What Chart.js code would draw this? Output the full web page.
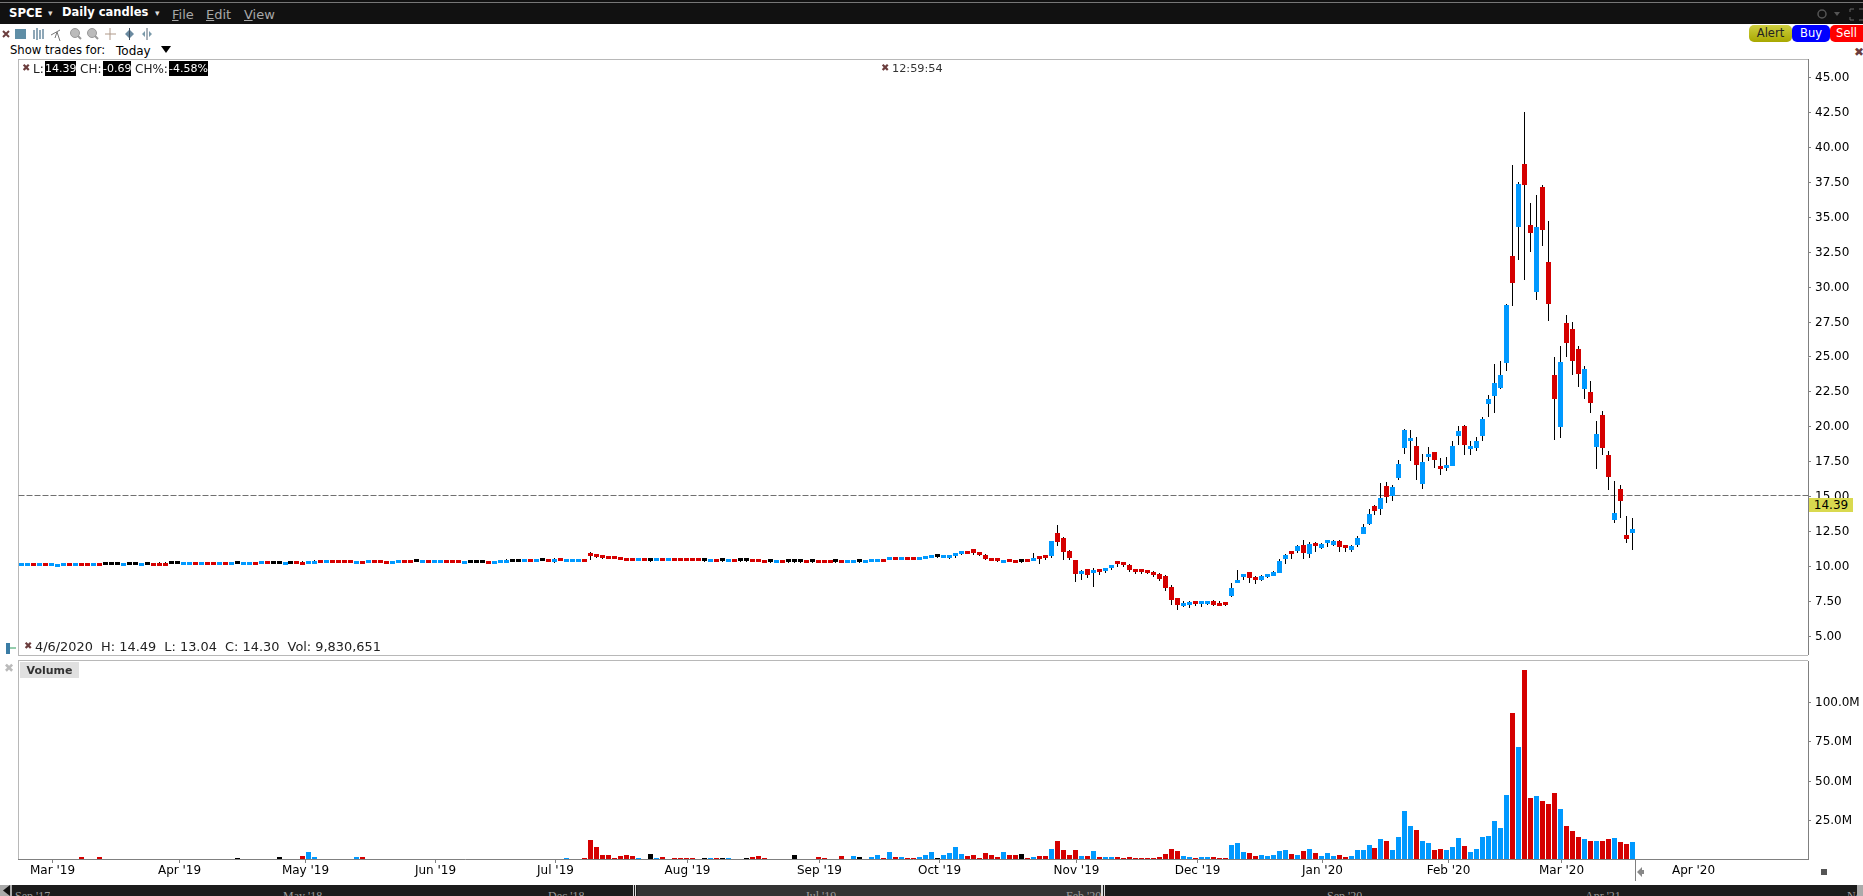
<!DOCTYPE html>
<html lang="en">
<head>
<meta charset="UTF-8">
<title>SPCE Daily candles</title>
<script src="https://cdn.jsdelivr.net/npm/chart.js@4/dist/chart.umd.min.js"></script>
<style>
    html, body { margin: 0; padding: 0; background: #fff; overflow: hidden; }
    body { width: 1863px; height: 896px; position: relative; font-family: 'DejaVu Sans', sans-serif; font-size: 12px; color: #000; }
    canvas { position: absolute; left: 0; }
    .abs { position: absolute; white-space: pre; line-height: 1; }
    .line { position: absolute; background: #b8b8b8; }
    .x { position: absolute; color: #6b3d3d; font-size: 10px; line-height: 1; font-weight: bold; }
    .menu { color: #a8a8a8; font-size: 13px; top: 8px; }
    .menu u { text-decoration: underline; }
    .inv { position: absolute; background: #000; color: #fff; height: 15px; line-height: 15px; text-align: center; top: 61px; font-size: 11px; }
    .btn { position: absolute; top: 25px; height: 17px; line-height: 17px; text-align: center; font-size: 11.5px; border-radius: 5px; }
    .nav { position: absolute; top: 885px; height: 11px; overflow: hidden; color: #9a9a9a; font-family: 'Liberation Serif', serif; font-size: 12px; line-height: 16px; padding-top: 3px; box-sizing: border-box; white-space: pre; }
</style>
</head>
<body>

<!-- title bar -->
<div style="position:absolute;left:0;top:0;width:1863px;height:2px;background:#111"></div>
<div style="position:absolute;left:0;top:2px;width:1863px;height:1px;background:#777"></div>
<div style="position:absolute;left:0;top:3px;width:1863px;height:21px;background:#111"></div>
<div class="abs" style="left:9px;top:8px;color:#fff;font-weight:bold;font-size:11.7px">SPCE</div>
<div class="abs" style="left:48px;top:9px;color:#ddd;font-size:9px">▾</div>
<div class="abs" style="left:62px;top:7px;color:#fff;font-weight:bold;font-size:11.5px">Daily candles</div>
<div class="abs" style="left:155px;top:9px;color:#ddd;font-size:9px">▾</div>
<div class="abs menu" style="left:172px"><u>F</u>ile</div>
<div class="abs menu" style="left:206px"><u>E</u>dit</div>
<div class="abs menu" style="left:244px"><u>V</u>iew</div>
<svg style="position:absolute;left:1815px;top:4px" width="48" height="20">
    <circle cx="7" cy="10" r="4" fill="none" stroke="#555" stroke-width="1.5"/>
    <path d="M19 8h6l-3 4z" fill="#555"/>
    <path d="M35 8V5h4M48 5h-4M35 13v3h4M48 16h-4" fill="none" stroke="#666"/>
</svg>

<!-- toolbar -->
<svg style="position:absolute;left:0;top:25px" width="160" height="18">
    <path d="M3 6l6 6M9 6l-6 6" stroke="#6b3d3d" stroke-width="2"/>
    <rect x="15" y="4" width="11" height="10" fill="#5f8ea6"/>
    <path d="M34 5v9M37 3v12M40 5v9M43 4v10" stroke="#6a8aa0" stroke-width="1.5"/>
    <path d="M51 10l9-5M57 7l3 9M57 7l-2 6" stroke="#777" fill="none"/>
    <circle cx="75" cy="8" r="4.5" fill="#bbb" stroke="#999"/><path d="M78 11l3 3" stroke="#999" stroke-width="2"/>
    <circle cx="92" cy="8" r="4.5" fill="#bbb" stroke="#999"/><path d="M95 11l3 3" stroke="#999" stroke-width="2"/>
    <path d="M110 3v12M105 9h11" stroke="#b09a8a"/>
    <path d="M125 9l4-4v8zM134 9l-4-4v8z" fill="#6a8aa0"/><path d="M129.500 3v12" stroke="#456"/>
    <path d="M142 9l3-3v6zM152 9l-3-3v6z" fill="#7a9aaa"/><path d="M147 3v12" stroke="#567"/>
</svg>
<div class="abs" style="left:10px;top:45px;font-size:11.6px">Show trades for:</div>
<div class="abs" style="left:116px;top:45px;font-size:12px">Today</div>
<svg style="position:absolute;left:161px;top:46px" width="12" height="8"><path d="M0 0h10l-5 7z" fill="#000"/></svg>
<div class="btn" style="left:1749px;width:43px;background:linear-gradient(#cfcf40,#a8a800);color:#222">Alert</div>
<div class="btn" style="left:1792px;width:38px;background:#0000ff;color:#fff">Buy</div>
<div class="btn" style="left:1830px;width:33px;background:#ff0000;color:#fff;border-radius:5px 0 0 5px">Sell</div>
<div class="x" style="left:1854px;top:46px;font-size:12px">✖</div>

<!-- chart panels -->
<div class="line" style="left:18px;top:59px;width:1790px;height:1px"></div>
<div class="line" style="left:18px;top:59px;width:1px;height:597px"></div>
<div class="line" style="left:18px;top:655px;width:1790px;height:1px"></div>
<div class="line" style="left:18px;top:660px;width:1790px;height:1px"></div>
<div class="line" style="left:18px;top:660px;width:1px;height:200px"></div>
<canvas id="priceChart" width="1863" height="596" style="top:59px;width:1863px;height:596px"></canvas>
<canvas id="volumeChart" width="1863" height="229" style="top:661px;width:1863px;height:229px"></canvas>

<div class="x" style="left:22px;top:63px">✖</div>
<div class="abs" style="left:33px;top:63px;color:#222">L:</div>
<div class="inv" style="left:45px;width:31px">14.39</div>
<div class="abs" style="left:80px;top:63px;color:#222">CH:</div>
<div class="inv" style="left:103px;width:28px">-0.69</div>
<div class="abs" style="left:135px;top:63px;color:#222">CH%:</div>
<div class="inv" style="left:169px;width:39px">-4.58%</div>
<div class="x" style="left:881px;top:63px">✖</div>
<div class="abs" style="left:892px;top:63px;color:#333;font-size:11.3px">12:59:54</div>

<div class="abs" style="left:1809px;top:498px;width:44px;height:14px;line-height:14px;text-align:center;background:#d9d94f">14.39</div>

<svg style="position:absolute;left:4px;top:642px" width="12" height="13"><path d="M2 1h4v11H2z" fill="#3a7ca5"/><path d="M6 6h6" stroke="#2a9a5a"/></svg>
<div class="x" style="left:24px;top:641px">✖</div>
<div class="abs" style="left:35px;top:641px;font-size:12.9px;color:#222">4/6/2020  H: 14.49  L: 13.04  C: 14.30  Vol: 9,830,651</div>

<div class="x" style="left:4px;top:662px;color:#bbb;font-size:12px">✖</div>
<div class="abs" style="left:20px;top:662px;width:59px;height:16px;line-height:17px;text-align:center;background:#e0e0e0;font-weight:bold;font-size:11px;color:#333">Volume</div>

<div style="position:absolute;left:1635px;top:859px;width:1px;height:22px;background:#808080"></div>
<svg style="position:absolute;left:1637px;top:867px" width="10" height="10"><path d="M0 5l5-5v3h2v4H5v3z" fill="#888"/></svg>
<div style="position:absolute;left:1821px;top:869px;width:6px;height:6px;background:#555"></div>

<!-- range navigator -->
<div style="position:absolute;left:0;top:885px;width:1863px;height:11px;background:#1c1c1c"></div>
<div style="position:absolute;left:0;top:885px;width:12px;height:11px;background:#aaa"></div>
<svg style="position:absolute;left:1px;top:885px" width="10" height="11"><path d="M9 0v11L2 5.500z" fill="#111"/></svg>
<div style="position:absolute;left:637px;top:885px;width:465px;height:11px;background:#333"></div>
<div style="position:absolute;left:633px;top:885px;width:1px;height:11px;background:#ddd"></div>
<div style="position:absolute;left:635px;top:885px;width:1px;height:11px;background:#ddd"></div>
<div style="position:absolute;left:1101px;top:885px;width:2px;height:11px;background:#ddd"></div>
<div style="position:absolute;left:1104px;top:885px;width:1px;height:11px;background:#ddd"></div>
<div class="nav" style="left:15px">Sep '17</div>
<div class="nav" style="left:283px">May '18</div>
<div class="nav" style="left:548px">Dec '18</div>
<div class="nav" style="left:805px">Jul '19</div>
<div class="nav" style="left:1066px">Feb '20</div>
<div class="nav" style="left:1327px">Sep '20</div>
<div class="nav" style="left:1585px">Apr '21</div>
<div class="nav" style="left:1847px">No</div>
<div style="position:absolute;left:1857px;top:885px;width:6px;height:11px;background:#aaa"></div>

<script>
// candles, one per trading day
const opens = [
    9.99,9.99,10.19,9.99,10.19,9.99,9.92,9.99,10.19,9.99,
    10.19,10.19,9.99,10.19,10.09,10.09,10.09,9.99,10.09,10.09,
    9.99,10.09,10.19,10.19,10.19,10.16,10.16,10.06,10.06,10.26,
    10.06,10.26,10.26,10.06,10.26,10.06,10.16,10.06,10.06,10.26,
    10.13,10.33,10.16,10.16,10.06,10.16,10.33,10.26,10.13,10.13,
    10.41,10.21,10.41,10.41,10.41,10.41,10.13,10.33,10.21,10.41,
    10.41,10.33,10.13,10.21,10.41,10.41,10.31,10.21,10.41,10.21,
    10.21,10.41,10.41,10.41,10.13,10.23,10.23,10.23,10.33,10.13,
    10.21,10.21,10.31,10.31,10.28,10.48,10.28,10.38,10.48,10.28,
    10.55,10.28,10.28,10.28,10.48,10.95,10.79,10.71,10.64,10.64,
    10.57,10.50,10.50,10.36,10.50,10.36,10.36,10.50,10.36,10.50,
    10.50,10.50,10.50,10.50,10.36,10.29,10.43,10.36,10.29,10.43,
    10.36,10.36,10.43,10.43,10.35,10.28,10.21,10.35,10.28,10.28,
    10.28,10.35,10.28,10.35,10.35,10.35,10.28,10.35,10.21,10.21,
    10.28,10.21,10.29,10.29,10.43,10.43,10.57,10.43,10.57,10.57,
    10.43,10.50,10.57,10.64,10.57,10.57,10.71,10.88,11.02,11.21,
    11.00,10.78,10.50,10.50,10.21,10.43,10.35,10.28,10.43,10.35,
    10.64,10.71,10.71,12.36,12.00,11.07,10.43,9.42,9.78,9.50,
    9.71,9.64,9.85,10.28,10.21,10.07,9.71,9.71,9.64,9.50,
    9.42,9.28,8.50,7.71,7.13,7.21,7.49,7.28,7.28,7.49,
    7.28,7.35,7.85,8.78,9.21,9.57,9.21,9.00,9.21,9.28,
    9.50,10.50,11.00,11.07,11.50,10.86,11.57,11.29,11.64,11.50,
    11.79,11.43,11.14,11.50,12.29,13.00,14.29,14.08,15.72,15.01,
    16.30,18.44,18.95,18.59,15.87,17.80,18.16,17.08,17.01,17.16,
    19.30,20.02,18.37,18.44,19.30,21.59,22.17,22.74,24.53,32.19,
    34.26,38.77,34.41,29.61,37.13,31.76,23.67,19.95,27.39,26.96,
    25.53,22.67,22.45,18.52,20.81,17.94,13.29,15.51,12.21,12.36
];
const closes = [
    10.19,10.19,9.99,10.19,9.99,10.19,10.12,10.19,9.99,10.19,
    9.99,9.99,10.19,9.99,10.09,10.09,10.09,10.19,10.09,10.09,
    10.19,10.09,9.99,9.99,9.99,10.16,10.16,10.26,10.26,10.06,
    10.26,10.06,10.06,10.26,10.06,10.26,10.16,10.26,10.26,10.06,
    10.33,10.13,10.16,10.16,10.26,10.16,10.13,10.06,10.33,10.33,
    10.21,10.41,10.21,10.21,10.21,10.21,10.33,10.13,10.41,10.21,
    10.21,10.13,10.33,10.41,10.21,10.21,10.31,10.41,10.21,10.41,
    10.41,10.21,10.21,10.21,10.33,10.23,10.23,10.23,10.13,10.33,
    10.41,10.41,10.31,10.31,10.48,10.28,10.48,10.38,10.28,10.48,
    10.35,10.48,10.48,10.48,10.28,10.71,10.64,10.57,10.50,10.50,
    10.43,10.36,10.36,10.50,10.36,10.36,10.50,10.36,10.50,10.36,
    10.36,10.36,10.36,10.36,10.36,10.43,10.29,10.36,10.43,10.29,
    10.36,10.36,10.29,10.29,10.21,10.28,10.35,10.21,10.28,10.28,
    10.28,10.21,10.28,10.21,10.21,10.21,10.28,10.21,10.35,10.35,
    10.28,10.35,10.43,10.43,10.29,10.57,10.43,10.57,10.43,10.43,
    10.57,10.64,10.71,10.64,10.71,10.71,10.85,11.02,10.88,10.93,
    10.78,10.50,10.35,10.35,10.36,10.28,10.21,10.28,10.28,10.50,
    10.50,10.57,11.79,11.71,11.00,10.57,9.42,9.66,9.35,9.64,
    9.57,9.78,10.00,10.14,10.07,9.71,9.57,9.57,9.50,9.35,
    9.07,8.42,7.56,7.21,7.28,7.35,7.28,7.42,7.42,7.21,
    7.13,7.21,8.42,9.00,9.35,9.14,9.00,9.28,9.35,9.57,
    10.36,10.79,10.86,11.43,10.93,11.57,11.43,11.57,11.79,11.79,
    11.36,11.29,11.43,12.00,12.79,13.72,13.93,14.87,14.94,15.65,
    17.30,19.73,19.09,17.23,17.44,17.95,17.59,16.94,17.16,18.59,
    19.66,18.66,18.52,18.95,20.52,21.95,23.10,23.67,28.68,30.25,
    37.34,37.27,33.83,34.26,34.05,28.75,21.95,24.60,25.96,24.67,
    23.74,24.10,21.67,19.45,18.44,16.37,13.79,14.65,11.93,12.65
];
const highs = [
    10.19,10.19,10.19,10.19,10.19,10.19,10.17,10.19,10.19,10.19,
    10.19,10.19,10.19,10.19,10.12,10.12,10.12,10.19,10.12,10.12,
    10.19,10.12,10.19,10.26,10.26,10.19,10.19,10.26,10.26,10.26,
    10.26,10.26,10.26,10.26,10.26,10.26,10.19,10.26,10.26,10.26,
    10.33,10.33,10.19,10.19,10.26,10.19,10.33,10.38,10.33,10.40,
    10.41,10.41,10.41,10.41,10.41,10.41,10.38,10.38,10.41,10.41,
    10.41,10.38,10.38,10.41,10.41,10.41,10.34,10.41,10.41,10.41,
    10.41,10.41,10.41,10.41,10.38,10.30,10.30,10.30,10.38,10.38,
    10.41,10.48,10.34,10.34,10.48,10.48,10.48,10.41,10.48,10.55,
    10.55,10.48,10.48,10.48,10.48,11.00,10.86,10.78,10.69,10.71,
    10.57,10.50,10.50,10.50,10.50,10.48,10.50,10.50,10.50,10.55,
    10.50,10.50,10.50,10.50,10.48,10.43,10.43,10.43,10.43,10.43,
    10.43,10.43,10.43,10.43,10.35,10.35,10.35,10.35,10.35,10.35,
    10.35,10.35,10.35,10.35,10.35,10.35,10.35,10.35,10.35,10.35,
    10.35,10.35,10.50,10.50,10.50,10.62,10.57,10.57,10.57,10.57,
    10.57,10.69,10.71,10.71,10.71,10.71,10.90,11.02,11.02,11.21,
    11.00,10.85,10.55,10.50,10.43,10.43,10.35,10.35,10.43,10.93,
    10.64,10.78,11.79,12.93,12.07,11.14,10.43,9.74,9.78,9.85,
    9.78,9.85,10.00,10.35,10.21,10.14,9.78,9.71,9.71,9.64,
    9.50,9.35,8.64,7.71,7.49,7.49,7.49,7.49,7.49,7.56,
    7.49,7.35,8.78,9.71,9.43,9.57,9.28,9.35,9.35,9.64,
    10.50,10.86,11.00,11.50,11.86,11.72,11.72,11.64,11.86,11.86,
    11.86,11.43,11.50,12.15,13.00,14.08,14.36,15.94,16.01,15.80,
    17.59,19.80,19.73,19.23,18.01,18.52,18.16,17.73,17.80,18.95,
    20.02,20.09,18.95,19.23,20.66,22.24,24.46,24.67,28.75,38.70,
    37.48,42.50,35.98,36.55,37.27,34.69,24.96,25.74,27.96,27.46,
    25.74,24.31,23.24,20.38,21.09,18.23,16.08,15.80,13.58,13.43
];
const lows = [
    9.99,9.99,9.99,9.99,9.99,9.99,9.92,9.99,9.99,9.99,
    9.99,9.99,9.99,9.99,10.06,10.06,10.06,9.99,10.06,10.06,
    9.99,10.06,9.99,9.99,9.99,10.13,10.13,10.06,10.06,10.06,
    10.06,10.06,10.06,10.06,10.06,10.06,10.13,10.06,10.06,10.06,
    10.13,10.13,10.13,10.13,10.06,10.13,10.13,10.06,10.13,10.13,
    10.21,10.21,10.21,10.21,10.21,10.21,10.13,10.13,10.21,10.21,
    10.21,10.13,10.13,10.21,10.21,10.21,10.28,10.21,10.21,10.21,
    10.21,10.21,10.21,10.21,10.13,10.20,10.20,10.20,10.13,10.13,
    10.21,10.21,10.28,10.28,10.28,10.28,10.28,10.35,10.28,10.24,
    10.35,10.28,10.28,10.28,10.28,10.43,10.57,10.50,10.50,10.50,
    10.43,10.36,10.36,10.36,10.36,10.30,10.36,10.36,10.36,10.36,
    10.36,10.36,10.36,10.36,10.30,10.29,10.29,10.29,10.29,10.29,
    10.29,10.29,10.29,10.29,10.21,10.21,10.21,10.21,10.21,10.21,
    10.21,10.21,10.21,10.21,10.21,10.21,10.21,10.21,10.21,10.21,
    10.21,10.21,10.29,10.29,10.29,10.43,10.43,10.43,10.43,10.43,
    10.43,10.50,10.57,10.57,10.57,10.50,10.57,10.78,10.88,10.78,
    10.71,10.43,10.35,10.28,10.21,10.28,10.21,10.21,10.28,10.35,
    10.14,10.43,10.57,11.43,10.43,10.43,8.85,8.99,9.14,8.50,
    9.35,9.50,9.71,9.93,9.93,9.57,9.42,9.42,9.42,9.21,
    8.92,8.21,7.21,6.85,7.06,6.99,7.13,7.06,7.21,7.13,
    7.13,7.13,7.78,8.78,9.00,8.78,8.71,8.92,9.14,9.28,
    9.50,10.14,10.50,10.93,10.50,10.57,11.00,11.21,11.36,11.43,
    11.00,11.00,11.00,11.36,12.29,12.93,13.65,13.65,14.51,14.65,
    16.15,18.01,17.51,16.15,15.51,17.51,17.01,16.51,16.80,17.16,
    18.66,17.94,17.94,18.23,18.95,20.66,20.95,22.67,23.96,28.61,
    31.90,30.47,32.47,29.04,32.90,27.53,19.00,19.16,24.96,23.67,
    22.81,21.95,20.95,16.94,17.94,15.44,13.08,13.43,11.64,11.14
];
// millions of shares
const volumes = [
    .1,.1,.1,.1,.1,.1,.1,.1,.1,.1,
    1,.1,.1,1.5,.1,.1,.1,.1,.1,.1,
    .1,.1,.1,.1,.1,.1,.1,.1,.1,.1,
    .1,.1,.1,.1,.1,.1,.7,.1,.1,.1,
    .1,.1,.1,1.3,.1,.1,.1,2.1,4.7,1.5,
    .1,.1,.1,.1,.1,.1,1,1,.1,.1,
    .1,.1,.1,.1,.1,.1,.1,.1,.1,.1,
    .1,.1,.1,.1,.1,.1,.1,.1,.1,.1,
    .1,.1,.1,.1,.1,.1,.1,.1,.1,.1,
    .1,.9,.1,.1,.9,12.3,7.9,2.8,2.8,.9,
    2.1,2.8,2.1,.9,.1,3.4,.7,1.5,.1,.9,
    .9,.9,.9,.1,.7,.9,.9,.9,.9,.1,
    .1,.7,1.5,2.1,.9,.1,.1,.1,.1,2.8,
    .1,.1,.1,1.5,.9,.1,.1,2.1,.1,2.1,
    1.5,.1,1.5,2.8,.9,4.7,1.5,1.5,.9,.9,
    1.5,2.8,4.7,.9,2.8,4,7.9,3.4,2.1,2.8,
    .9,4,2.8,1.5,4.7,2.8,2.8,3.4,.9,1.5,
    2.1,2.1,6.6,11.7,6,2.8,6,2.1,2.1,5.3,
    1.5,1.5,1.5,1.5,.9,1.5,.9,.9,.9,.9,
    1.5,3.4,6.6,5.3,2.1,1.5,.9,1.5,1.5,1.5,
    .9,.9,9.1,10.4,4.7,4,2.1,2.8,2.1,2.8,
    5.3,6,3.4,2.8,5.3,6.6,4,2.1,4,2.1,
    2.8,1.5,2.1,6,6,9.1,7.2,13,11.7,6,
    14,30.8,21.3,18.7,11.7,10.4,6,6.6,6,7.9,
    13.6,8.5,4.7,6.6,14,14.7,24.2,19.8,40.8,93.1,
    71.4,120.5,38.9,40.2,37,35,42.1,31.9,21,17.9,
    14,12.8,11.5,11.5,11.5,12.8,13.4,10.8,9.6,10.8
];

const priceTicks = [5,7.5,10,12.5,15,17.5,20,22.5,25,27.5,30,32.5,35,37.5,40,42.5,45];
const volumeTicks = [25,50,75,100];
const monthLabels = ["Mar '19","Apr '19","May '19","Jun '19","Jul '19","Aug '19","Sep '19","Oct '19","Nov '19","Dec '19","Jan '20","Feb '20","Mar '20","Apr '20"];
const monthPositions = [5.26,26.4,47.4,69.2,89.2,111.2,133.2,153.3,176.2,196.3,217.3,238.2,257.2,279.1];
const levelLine = 15.06;

const UP = '#0099ff', DOWN = '#d50000', FLAT = '#000000', AXIS = '#808080';
const fontSpec = { family: "'DejaVu Sans', sans-serif", size: 12 };
const xRange = { min: -0.5, max: 298.3 };

function barColor(i) {
    return closes[i] > opens[i] ? UP : closes[i] < opens[i] ? DOWN : FLAT;
}

// the original draws on whole pixels, so snap scale output to keep bars crisp
function snap(scale, offset) {
    if (scale.snapped) return;
    const raw = scale.getPixelForValue.bind(scale);
    scale.getPixelForValue = (v) => Math.round(raw(v) - offset) + offset;
    scale.snapped = true;
}

function noPadding(scale) {
    scale.paddingTop = scale.paddingBottom = scale.paddingLeft = scale.paddingRight = 0;
}

function yAxis(range, tickValues, format) {
    return {
        position: 'right',
        min: range[0],
        max: range[1],
        border: { color: AXIS },
        grid: { drawOnChartArea: false, tickLength: 3, color: AXIS },
        ticks: { autoSkip: false, color: '#000', font: fontSpec, padding: 4, labelOffset: 1, callback: format },
        afterBuildTicks: (s) => { s.ticks = tickValues.map((value) => ({ value })); },
        afterFit: (s) => { s.width = 55; noPadding(s); },
        afterUpdate: (s) => snap(s, 0)
    };
}

const levelPlugin = {
    id: 'levelPlugin',
    afterDatasetsDraw(chart) {
        const { ctx, chartArea, scales } = chart;
        const y = Math.floor(scales.y.getPixelForValue(levelLine)) + 0.5;
        ctx.save();
        ctx.beginPath();
        ctx.setLineDash([6, 2]);
        ctx.strokeStyle = '#707070';
        ctx.lineWidth = 1;
        ctx.moveTo(chartArea.left, y);
        ctx.lineTo(chartArea.right, y);
        ctx.globalCompositeOperation = 'destination-over';
        ctx.stroke();
        ctx.restore();
    }
};

new Chart(document.getElementById('priceChart'), {
    type: 'bar',
    data: {
        datasets: [
            {
                label: 'Body',
                order: 1,
                barThickness: 5,
                minBarLength: 3,
                inflateAmount: 0,
                backgroundColor: opens.map((o, i) => barColor(i)),
                data: opens.map((o, i) => ({ x: i, y: [o, closes[i]] }))
            },
            {
                label: 'Wick',
                order: 2,
                barThickness: 1,
                inflateAmount: 0,
                backgroundColor: '#000',
                data: highs.map((h, i) => ({ x: i, y: [lows[i], h] }))
            }
        ]
    },
    options: {
        responsive: false,
        devicePixelRatio: 1,
        animation: false,
        events: [],
        layout: { padding: { left: 18.5 } },
        datasets: { bar: { grouped: false } },
        plugins: { legend: { display: false }, tooltip: { enabled: false } },
        scales: {
            x: {
                type: 'linear',
                display: false,
                offset: false,
                min: xRange.min,
                max: xRange.max,
                afterUpdate: (s) => snap(s, 0.5)
            },
            y: yAxis([3.63, 46.29], priceTicks, (v) => v.toFixed(2))
        }
    },
    plugins: [levelPlugin]
});

new Chart(document.getElementById('volumeChart'), {
    type: 'bar',
    data: {
        datasets: [{
            label: 'Volume',
            barThickness: 5,
            inflateAmount: 0,
            backgroundColor: volumes.map((v, i) => barColor(i)),
            data: volumes.map((v, i) => ({ x: i, y: v }))
        }]
    },
    options: {
        responsive: false,
        devicePixelRatio: 1,
        animation: false,
        events: [],
        layout: { padding: { left: 18.5 } },
        plugins: { legend: { display: false }, tooltip: { enabled: false } },
        scales: {
            x: {
                type: 'linear',
                offset: false,
                min: xRange.min,
                max: xRange.max,
                border: { color: AXIS },
                grid: {
                    offset: false,
                    drawOnChartArea: false,
                    tickLength: 4,
                    color: (c) => (c.index === monthLabels.length - 1 ? 'transparent' : AXIS)
                },
                ticks: {
                    autoSkip: false,
                    maxRotation: 0,
                    color: '#000',
                    font: fontSpec,
                    padding: 1,
                    callback: (v) => monthLabels[monthPositions.indexOf(v)]
                },
                afterBuildTicks: (s) => { s.ticks = monthPositions.map((value) => ({ value })); },
                afterFit: (s) => { s.height = 31; noPadding(s); },
                afterUpdate: (s) => snap(s, 0.5)
            },
            y: yAxis([0, 126.3], volumeTicks, (v) => v.toFixed(1) + 'M')
        }
    }
});
</script>
</body>
</html>
